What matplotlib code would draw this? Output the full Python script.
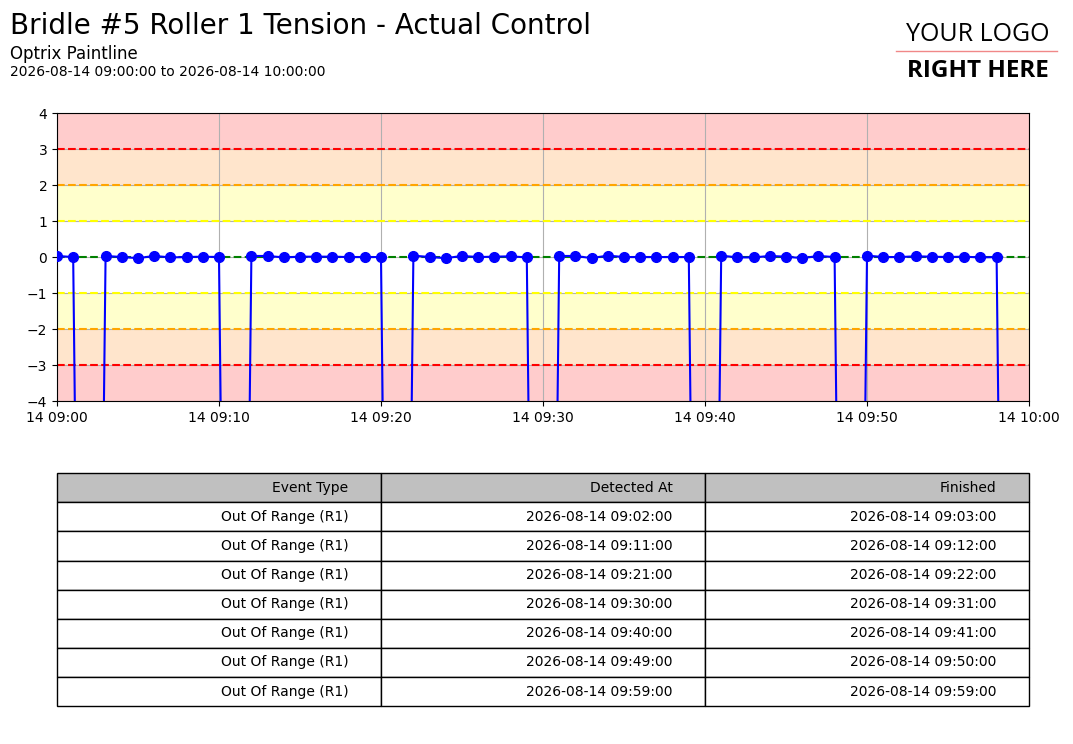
import numpy as np
import pandas as pd
import matplotlib
matplotlib.use('Agg')
import matplotlib.pyplot as plt
import matplotlib.dates as mdates

# one reading per minute, 09:00 .. 09:59
times = pd.date_range('2026-08-14 09:00', '2026-08-14 09:59', freq='1min')
values = [
    0.03, 0.00, -40, 0.03, 0.00, -0.03, 0.03, -0.01, 0.00, 0.01,   # 09:00-09:09
    0.00, -40, 0.03, 0.03, -0.01, 0.01, 0.01, 0.01, 0.00, 0.00,    # 09:10-09:19
    0.00, -40, 0.04, 0.00, -0.03, 0.03, 0.00, 0.01, 0.02, -0.01,   # 09:20-09:29
    -40, 0.03, 0.03, -0.03, 0.04, 0.00, 0.00, 0.00, 0.00, 0.00,    # 09:30-09:39
    -40, 0.04, -0.01, -0.01, 0.03, 0.01, -0.03, 0.03, 0.00, -40,   # 09:40-09:49
    0.04, 0.00, 0.00, 0.02, 0.01, 0.00, 0.01, -0.01, 0.00, -40,    # 09:50-09:59
]

# limit bands
band_edges = [(3, 4), (2, 3), (1, 2), (-2, -1), (-3, -2), (-4, -3)]
band_colors = ['#ffcccc', '#ffe5cc', '#ffffcc', '#ffffcc', '#ffe5cc', '#ffcccc']
limit_levels = [3, 2, 1, 0, -1, -2, -3]
limit_colors = ['red', 'orange', 'yellow', 'green', 'yellow', 'orange', 'red']

col_labels = ['Event Type', 'Detected At', 'Finished']
event_type = ['Out Of Range (R1)'] * 7
detected_at = ['2026-08-14 09:02:00', '2026-08-14 09:11:00', '2026-08-14 09:21:00',
               '2026-08-14 09:30:00', '2026-08-14 09:40:00', '2026-08-14 09:49:00',
               '2026-08-14 09:59:00']
finished_at = ['2026-08-14 09:03:00', '2026-08-14 09:12:00', '2026-08-14 09:22:00',
               '2026-08-14 09:31:00', '2026-08-14 09:41:00', '2026-08-14 09:50:00',
               '2026-08-14 09:59:00']

fig = plt.figure(figsize=(10.73, 7.44), dpi=100)

fig.text(0.0093, 0.965, 'Bridle #5 Roller 1 Tension - Actual Control', fontsize=20, va='center')
fig.text(0.0093, 0.927, 'Optrix Paintline', fontsize=12, va='center')
fig.text(0.0093, 0.903, '2026-08-14 09:00:00 to 2026-08-14 10:00:00', fontsize=10, va='center')

# logo placeholder
logo_font = ['Open Sans', 'DejaVu Sans']
fig.text(0.911, 0.953, 'YOUR LOGO', fontsize=18, ha='center', va='center',
         family=logo_font)
fig.text(0.911, 0.904, 'RIGHT HERE', fontsize=17.5, ha='center', va='center', weight='bold',
         family=logo_font)
fig.add_artist(plt.Line2D([0.835, 0.985], [0.932, 0.932], color='#f08888', lw=1.0))

ax = fig.add_axes([0.0531, 0.461, 0.9059, 0.387])
for (lo, hi), c in zip(band_edges, band_colors):
    ax.axhspan(lo, hi, color=c, lw=0, zorder=0)
ax.grid(True, color='#b0b0b0', lw=0.8)
for lv, c in zip(limit_levels, limit_colors):
    ax.axhline(lv, color=c, ls='--', lw=1.5, zorder=2)
ax.plot(times, values, color='blue', marker='o', markersize=7, lw=1.5, zorder=3)
ax.set_ylim(-4, 4)
ax.set_xlim(pd.Timestamp('2026-08-14 09:00'), pd.Timestamp('2026-08-14 10:00'))
ax.xaxis.set_major_locator(mdates.MinuteLocator(byminute=range(0, 60, 10)))
ax.xaxis.set_major_formatter(mdates.DateFormatter('%d %H:%M'))

tax = fig.add_axes([0.0531, 0.051, 0.9059, 0.313])
tax.axis('off')
cells = [list(r) for r in zip(event_type, detected_at, finished_at)]
tbl = tax.table(cellText=cells, colLabels=col_labels, cellLoc='right', colLoc='right',
                colColours=['#c0c0c0'] * 3, loc='center', bbox=[0, 0, 1, 1])
tbl.auto_set_font_size(False)
tbl.set_fontsize(10)

fig.savefig('out.png', dpi=100)
